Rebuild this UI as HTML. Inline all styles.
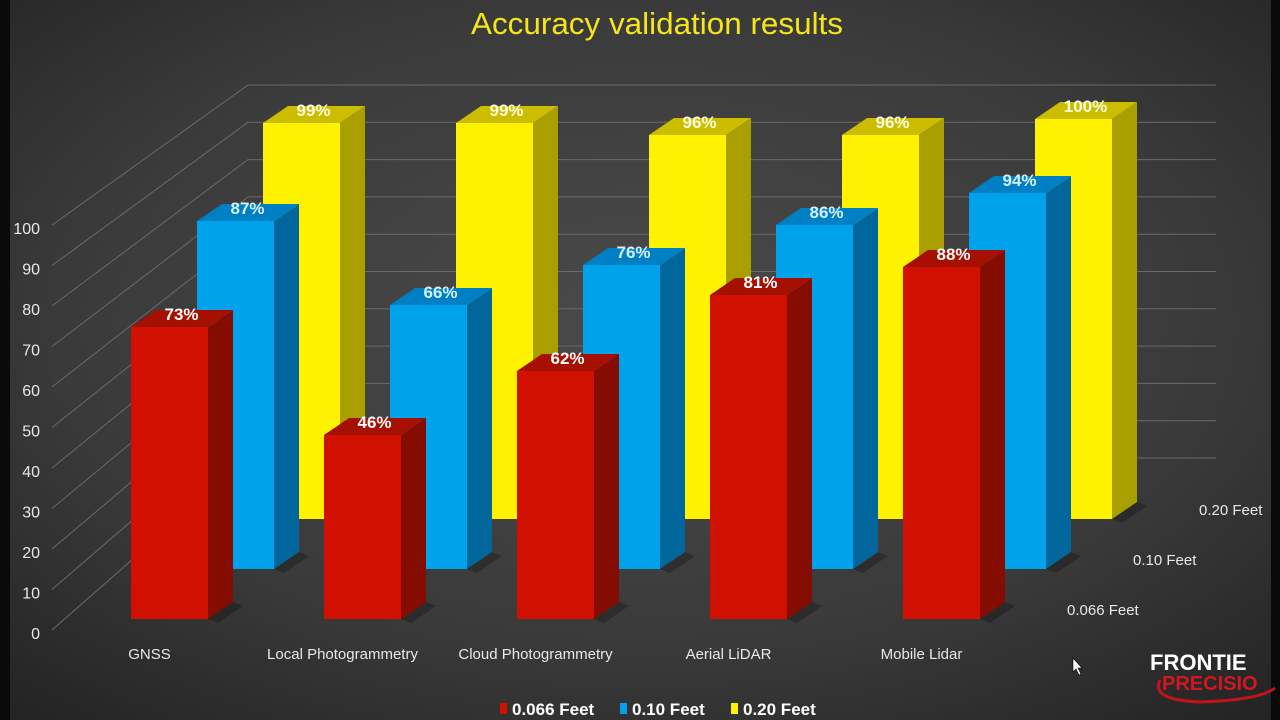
<!DOCTYPE html>
<html><head><meta charset="utf-8">
<style>
html,body{margin:0;padding:0;width:1280px;height:720px;overflow:hidden;background:#2a2a2a;}
svg{display:block;}
text{font-family:"Liberation Sans",Arial,sans-serif;}
</style></head>
<body>
<svg id="chart" width="1280" height="720" viewBox="0 0 1280 720" xmlns="http://www.w3.org/2000/svg">
<defs>
<radialGradient id="bg" cx="0.5" cy="0.45" r="0.75">
<stop offset="0" stop-color="#4a4a4a"/><stop offset="0.6" stop-color="#3a3a3a"/><stop offset="1" stop-color="#222"/>
</radialGradient>
</defs>
<rect x="0" y="0" width="1280" height="720" fill="url(#bg)"/>
<rect x="0" y="0" width="10" height="720" fill="#0a0a0a"/>
<rect x="1271" y="0" width="9" height="720" fill="#0a0a0a"/>
<text x="657" y="34" text-anchor="middle" font-size="31" fill="#f5e51a" textLength="372" lengthAdjust="spacingAndGlyphs">Accuracy validation results</text>
<g id="grid"></g>
<g id="bars"></g>
<g id="labels"></g>
<g font-size="17" font-weight="bold" fill="#fff">
<rect x="500" y="703" width="7" height="11" fill="#d01000"/>
<text x="512" y="715">0.066 Feet</text>
<rect x="620" y="703" width="7" height="11" fill="#00a2ec"/>
<text x="632" y="715">0.10 Feet</text>
<rect x="731" y="703" width="7" height="11" fill="#fff200"/>
<text x="743" y="715">0.20 Feet</text>
</g>
<g>
<path d="M1160 680 Q1150 700 1200 702 Q1260 700 1275 688" stroke="#c0141a" stroke-width="3" fill="none"/>
<text x="1150" y="670" font-size="22" font-weight="bold" fill="#fff">FRONTIE</text>
<text x="1162" y="690" font-size="20" font-weight="bold" fill="#d01820">PRECISIO</text>
</g>
<path d="M1073 658 L1073 672 L1076 669 L1079 675 L1081 674 L1078 668 L1082 668 Z" fill="#fff" stroke="#000" stroke-width="0.6"/>
</svg>
<script>
const categories=["GNSS","Local Photogrammetry","Cloud Photogrammetry","Aerial LiDAR","Mobile Lidar"];
const seriesNames=["0.066 Feet","0.10 Feet","0.20 Feet"];
const s0066=[73,46,62,81,88];
const s010=[87,66,76,86,94];
const s020=[99,99,96,96,100];
const yTicks=[0,10,20,30,40,50,60,70,80,90,100];

const NS="http://www.w3.org/2000/svg";
const svg=document.getElementById('chart');
const gGrid=document.getElementById('grid');
const gBars=document.getElementById('bars');
const gLab=document.getElementById('labels');
function el(tag,attrs,parent){const e=document.createElementNS(NS,tag);for(const k in attrs)e.setAttribute(k,attrs[k]);parent.appendChild(e);return e;}

const catX=i=>131+i*193;
const rowDX=r=>r*66, rowDY=r=>-r*50;
const baseY=619, pxPer=4.0;
const yVal=v=>v*pxPer;
const W=77, DX=25, DY=-17;

const wallY=v=>458-v*3.73;
const leftY=v=>630-v*4.05;
yTicks.forEach(t=>{
  const p=el('polyline',{points:`52,${leftY(t)} 248,${wallY(t)} 1216,${wallY(t)}`,fill:'none',stroke:'#6a6a6a','stroke-width':1},gGrid);
  
  
  const tx=el('text',{x:40,y:leftY(t)+9,'text-anchor':'end','font-size':16,fill:'#e8e8e8'},gGrid);
  tx.textContent=t;
  
  
});

const series=[s0066,s010,s020];
const colors=[{f:'#d01000',s:'#850c00',t:'#a51000'},{f:'#00a2ec',s:'#00669c',t:'#0080c4'},{f:'#fff200',s:'#aa9f00',t:'#ccbd00'}];
for(let r=2;r>=0;r--){
  series[r].forEach((v,i)=>{
    const x=catX(i)+rowDX(r), yb=baseY+rowDY(r), h=yVal(v), yt=yb-h, c=colors[r];
    const g=el('g',{},gBars);
    
    
    el('polygon',{points:`${x+W},${yb} ${x+W+DX},${yb+DY} ${x+W+DX+10},${yb+DY+4} ${x+W+10},${yb+4}`,fill:'rgba(0,0,0,0.25)'},g);
    el('rect',{x:x,y:yt,width:W,height:h,fill:c.f},g);
    el('polygon',{points:`${x+W},${yt} ${x+W+DX},${yt+DY} ${x+W+DX},${yb+DY} ${x+W},${yb}`,fill:c.s},g);
    el('polygon',{points:`${x},${yt} ${x+DX},${yt+DY} ${x+W+DX},${yt+DY} ${x+W},${yt}`,fill:c.t},g);
    const lt=el('text',{x:x+W/2+12,y:yt-7,'text-anchor':'middle','font-size':17,'font-weight':'bold',fill:r==0?'#fff':(r==1?'#d8eefc':'#fffde0')},g);
    lt.textContent=v+'%';
    
    
  });
}
categories.forEach((c,i)=>{
  const t=el('text',{x:catX(i)+W/2-20,y:659,'text-anchor':'middle','font-size':15,fill:'#e8e8e8'},gLab);
  t.textContent=c;
  
  
});
seriesNames.forEach((n,r)=>{
  const t=el('text',{x:1067+r*66,y:615-r*50,'font-size':15,fill:'#e8e8e8'},gLab);
  t.textContent=n;
  
  
});
</script>
</body></html>
